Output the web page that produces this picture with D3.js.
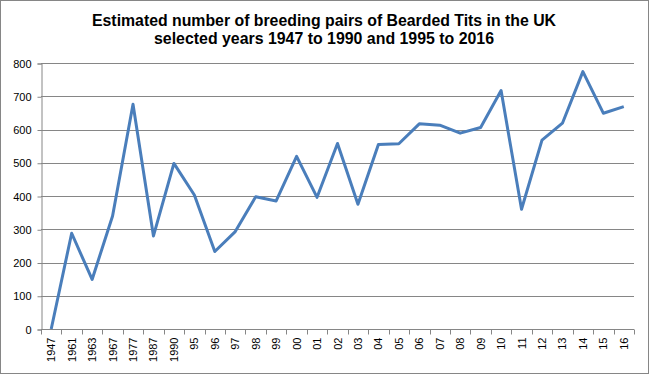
<!DOCTYPE html>
<html>
<head>
<meta charset="utf-8">
<script src="https://cdn.jsdelivr.net/npm/d3@7"></script>
<style>
  body { margin: 0; background: #fff; }
  svg { display: block; }
</style>
</head>
<body>
<div id="chart"></div>
<script>
// data
const years = ['1947', '1961', '1963', '1967', '1977', '1987', '1990', '95', '96', '97', '98', '99',
    '00', '01', '02', '03', '04', '05', '06', '07', '08', '09', '10', '11', '12', '13', '14', '15', '16'];
const pairs = [0, 288, 149, 340, 676, 280, 498, 403, 233, 293, 398, 385,
    519, 396, 558, 375, 555, 557, 617, 613, 589, 606, 717, 360, 568, 619, 774, 649, 669];
const yTicks = [0, 100, 200, 300, 400, 500, 600, 700, 800];
const titleLines = ['Estimated number of breeding pairs of Bearded Tits in the UK',
    'selected years 1947 to 1990 and 1995 to 2016'];

const width = 650;
const height = 375;
const margin = {top: 63, right: 16, bottom: 46, left: 41};

const svg = d3.select('#chart').append('svg')
    .attr('width', width)
    .attr('height', height);

// outer frame
svg.append('rect')
    .attr('x', 0.5).attr('y', 0.5)
    .attr('width', width - 2).attr('height', height - 2)
    .attr('fill', '#fff')
    .attr('stroke', '#868686');

const x = d3.scaleBand()
    .domain(years)
    .range([margin.left, width - margin.right]);

const y = d3.scaleLinear()
    .domain([0, 800])
    .range([height - margin.bottom, margin.top]);

// title
const titleWidths = [464, 340];
svg.append('g').selectAll('text')
    .data(titleLines)
    .join('text')
    .attr('x', width / 2 - 1)
    .attr('y', (d, i) => 26 + i * 17.5)
    .attr('text-anchor', 'middle')
    .attr('font-family', 'Liberation Sans, Arial, sans-serif')
    .attr('font-weight', 'bold')
    .attr('font-size', 16)
    .attr('textLength', (d, i) => titleWidths[i])
    .attr('lengthAdjust', 'spacingAndGlyphs')
    .attr('fill', '#000')
    .text(d => d);

// gridlines
svg.append('g').selectAll('line')
    .data(yTicks.filter(d => d > 0))
    .join('line')
    .attr('x1', margin.left)
    .attr('x2', width - margin.right)
    .attr('y1', d => Math.round(y(d)) + 0.5)
    .attr('y2', d => Math.round(y(d)) + 0.5)
    .attr('stroke', '#868686')
    .attr('stroke-width', 1);

// y axis
const yAxis = svg.append('g')
    .attr('transform', `translate(${margin.left + 0.5},0.5)`)
    .call(d3.axisLeft(y).tickValues(yTicks).tickSize(4).tickPadding(6));
yAxis.selectAll('path, line').attr('stroke', '#868686');
yAxis.selectAll('text')
    .attr('font-family', 'Liberation Sans, Arial, sans-serif')
    .attr('font-size', 11)
    .attr('fill', '#000');

// x axis, ticks on category boundaries
const xAxis = svg.append('g')
    .attr('transform', `translate(0,${Math.round(y(0)) + 0.5})`);
xAxis.append('line')
    .attr('x1', margin.left)
    .attr('x2', width - margin.right)
    .attr('stroke', '#868686');
xAxis.selectAll('line.tick')
    .data(years.concat(['end']))
    .join('line')
    .attr('class', 'tick')
    .attr('x1', (d, i) => Math.round(margin.left + i * x.step()) + 0.5)
    .attr('x2', (d, i) => Math.round(margin.left + i * x.step()) + 0.5)
    .attr('y1', 0)
    .attr('y2', 5)
    .attr('stroke', '#868686');
xAxis.selectAll('text')
    .data(years)
    .join('text')
    .attr('transform', d => `translate(${x(d) + x.bandwidth() / 2 + 4},8) rotate(-90)`)
    .attr('text-anchor', 'end')
    .attr('font-family', 'Liberation Sans, Arial, sans-serif')
    .attr('font-size', 11)
    .attr('fill', '#000')
    .text(d => d);

// series line
const line = d3.line()
    .x((d, i) => x(years[i]) + x.bandwidth() / 2)
    .y(d => y(d));

svg.append('path')
    .datum(pairs)
    .attr('d', line)
    .attr('fill', 'none')
    .attr('stroke', '#4a7ebb')
    .attr('stroke-width', 3)
    .attr('stroke-linejoin', 'round');
</script>
</body>
</html>
